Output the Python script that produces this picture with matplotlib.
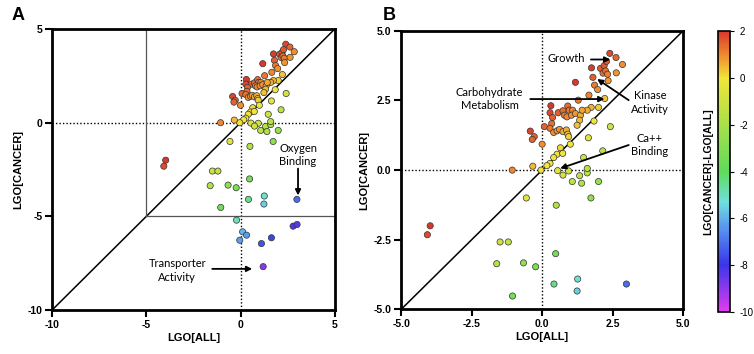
import matplotlib
matplotlib.use("Agg")
import matplotlib.pyplot as plt
import numpy as np
from matplotlib.colors import LinearSegmentedColormap, Normalize

plt.rcParams['axes.unicode_minus'] = False
plt.rcParams['font.family'] = ['Liberation Sans', 'DejaVu Sans']

# LGO[ALL] (x) and LGO[CANCER] (y) for each GO term
lgo_all = [2.40, 2.62, 2.85, 1.75, 2.07, 2.20, 2.28, 2.16, 2.25, 2.32, 2.63, 1.80, 2.34, 1.18,
           1.86, 1.97, 1.66, 2.22, 1.28, 2.00, 1.74, 1.60, 1.84, 2.42, 0.31, 0.57, 0.74, 0.91,
           0.96, 1.08, 0.28, 0.37, 0.79, 0.88, 1.04, 1.18, 1.36, 1.42, 1.33, 1.24, 0.08, 0.34,
           0.28, 0.41, 0.53, 0.62, 0.74, 0.86, 0.91, 0.94, -0.42, -0.28, -0.35, 0.00, 1.00,
           1.64, 2.15, 1.47, 0.65, 0.53, 0.73, 0.41, 0.28, 0.17, -0.04, -0.33, -1.06, 0.55,
           0.94, 0.74, 1.07, 1.33, 1.40, 1.60, 1.60, 2.00, 1.73, -0.56, 0.50, -3.97, -4.07,
           -1.49, -1.20, 0.48, -1.61, -0.66, -0.23, 0.42, 1.26, 1.24, 2.99, -1.05,
           -0.21, 0.11, 0.32, -0.04, 1.11, 1.64, 2.79, 3.00, 1.20]
lgo_cancer = [4.19, 4.04, 3.79, 3.67, 3.65, 3.75, 3.90, 3.48, 3.56, 3.44, 3.49, 3.33, 3.21, 3.15,
              3.05, 2.89, 2.69, 2.57, 2.51, 2.25, 2.25, 2.15, 1.76, 1.56, 2.31, 2.06, 2.13, 2.30,
              2.15, 2.15, 2.06, 1.89, 1.97, 1.91, 1.97, 2.03, 1.97, 2.15, 1.79, 1.61, 1.56, 1.67,
              1.50, 1.35, 1.41, 1.46, 1.38, 1.44, 1.29, 1.20, 1.40, 1.20, 1.10, 0.93, 0.93,
              1.16, 0.69, 0.45, 0.80, 0.57, 0.60, 0.45, 0.24, 0.16, 0.00, 0.14, 0.00, -0.02,
              -0.03, -0.18, -0.41, -0.20, -0.47, -0.10, 0.06, -0.41, -1.00, -1.00, -1.26, -2.00, -2.32,
              -2.58, -2.58, -3.00, -3.36, -3.33, -3.47, -4.09, -3.91, -4.34, -4.09, -4.52,
              -5.20, -5.82, -6.00, -6.27, -6.45, -6.14, -5.52, -5.43, -7.68]

ticks_a = [-10, -5, 0, 5]
ticks_b = [-5.0, -2.5, 0.0, 2.5, 5.0]
cbar_ticks = [2, 0, -2, -4, -6, -8, -10]

x = np.array(lgo_all)
y = np.array(lgo_cancer)
diff = y - x

cvals = [-10, -8, -6.3, -5.3, -4, -2, 0, 1, 2]
ccols = ['#e03cf0', '#3a36e8', '#5a9cf0', '#70e0dc', '#5edc5a', '#a8e04a', '#f2e63a', '#f08a30', '#d8382c']
cmap = LinearSegmentedColormap.from_list('lgo', [((v + 10) / 12, c) for v, c in zip(cvals, ccols)])
norm = Normalize(vmin=-10, vmax=2)

fig = plt.figure(figsize=(7.54, 3.54), dpi=100)
axA = fig.add_axes([0.069, 0.124, 0.375, 0.794])
axB = fig.add_axes([0.532, 0.126, 0.374, 0.787])
cax = fig.add_axes([0.952, 0.119, 0.0166, 0.793])

def style(ax, lim, ticks, labels):
    ax.set_xlim(lim)
    ax.set_ylim(lim)
    ax.set_xticks(ticks)
    ax.set_yticks(ticks)
    ax.set_xticklabels(labels, fontweight='bold', fontsize=7.5)
    ax.set_yticklabels(labels, fontweight='bold', fontsize=7.5)
    for s in ax.spines.values():
        s.set_linewidth(2)
    ax.tick_params(direction='out', length=5, width=1.5, pad=2)
    ax.set_xlabel('LGO[ALL]', fontweight='bold', fontsize=8, labelpad=2)
    ax.set_ylabel('LGO[CANCER]', fontweight='bold', fontsize=8, labelpad=3)
    ax.axhline(0, color='black', ls=(0, (1, 1.5)), lw=1, zorder=1)
    ax.axvline(0, color='black', ls=(0, (1, 1.5)), lw=1, zorder=1)
    ax.plot(lim, lim, color='black', lw=1.1, zorder=1)

style(axA, (-10, 5), ticks_a, [str(t) for t in ticks_a])
style(axB, (-5, 5), ticks_b, ['%.1f' % t for t in ticks_b])

axA.plot([-5, -5], [-5, 5], color='#555555', lw=0.9, zorder=1)
axA.plot([-5, 5], [-5, -5], color='#555555', lw=0.9, zorder=1)

for ax in (axA, axB):
    ax.scatter(x, y, c=diff, cmap=cmap, norm=norm, s=20, edgecolors='#333333',
               linewidths=0.5, zorder=3)

afont = dict(fontsize=8, family=['Lato', 'DejaVu Sans'], ha='center', va='center', linespacing=1.3)
aprops = dict(arrowstyle='-|>', color='black', lw=1.3, mutation_scale=8, shrinkA=0, shrinkB=0)

axA.text(3.05, -1.73, 'Oxygen\nBinding', **afont)
axA.annotate('', xy=(3.05, -3.88), xytext=(3.05, -2.45), arrowprops=aprops)
axA.text(-3.36, -7.87, 'Transporter\nActivity', **afont)
axA.annotate('', xy=(0.62, -7.8), xytext=(-1.5, -7.8), arrowprops=aprops)

axB.text(0.86, 4.0, 'Growth', **afont)
axB.annotate('', xy=(2.42, 3.97), xytext=(1.73, 3.97), arrowprops=aprops)
axB.text(-1.86, 2.55, 'Carbohydrate\nMetabolism', **afont)
axB.annotate('', xy=(2.21, 2.55), xytext=(-0.42, 2.55), arrowprops=aprops)
axB.text(3.82, 2.42, 'Kinase\nActivity', **afont)
axB.annotate('', xy=(1.95, 3.27), xytext=(3.07, 2.51), arrowprops=aprops)
axB.text(3.82, 0.90, 'Ca++\nBinding', **afont)
axB.annotate('', xy=(0.64, 0.06), xytext=(3.07, 0.90), arrowprops=aprops)

fig.text(0.015, 0.955, 'A', fontsize=13, fontweight='bold', va='center')
fig.text(0.508, 0.955, 'B', fontsize=13, fontweight='bold', va='center')

sm = plt.cm.ScalarMappable(cmap=cmap, norm=norm)
cb = fig.colorbar(sm, cax=cax, ticks=cbar_ticks)
cb.ax.set_yticklabels([str(t) for t in cbar_ticks], fontsize=7)
cb.ax.tick_params(length=3, width=0.8)
cb.outline.set_linewidth(1.2)
cb.ax.yaxis.set_label_position('left')
cb.set_label('LGO[CANCER]-LGO[ALL]', fontweight='bold', fontsize=7.5, labelpad=3)

fig.savefig('out.png', dpi=100)
